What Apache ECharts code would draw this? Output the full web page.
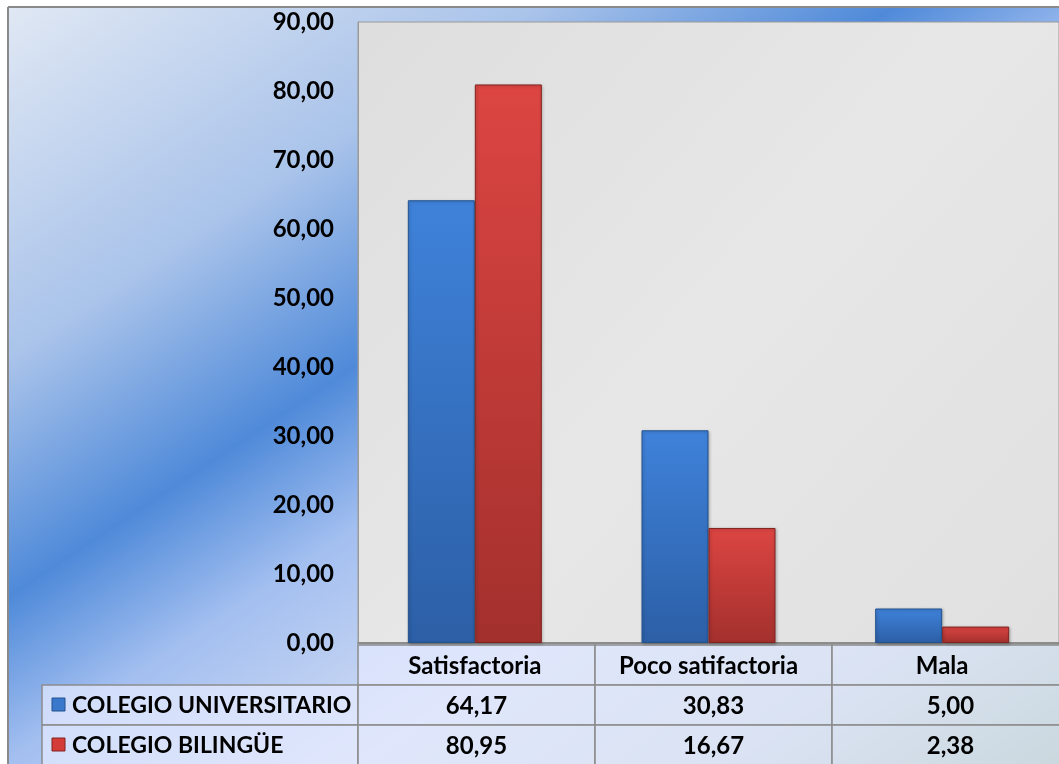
<!DOCTYPE html>
<html><head><meta charset="utf-8">
<script src="https://cdn.jsdelivr.net/npm/echarts@6/dist/echarts.min.js"></script>
<style>html,body{margin:0;padding:0;background:#fff;overflow:hidden}#c{width:1059px;height:764px}</style>
</head><body><div id="c"></div>
<script>
const categories = ['Satisfactoria', 'Poco satifactoria', 'Mala'];
const seriesNames = ['COLEGIO UNIVERSITARIO', 'COLEGIO BILINGÜE'];
const universitario = [64.17, 30.83, 5.00];
const bilingue = [80.95, 16.67, 2.38];
const yMin = 0, yMax = 90, yInterval = 10;

const FONT = 'Lato';
const W = 'bold';
const fmt = v => Number(v).toFixed(2).replace('.', ',');

// layout
const G = {left: 358, top: 22, width: 711, height: 621};
const tableLeft = 42, rowH = 40, headerTop = 645, headerH = 40;
const colW = G.width / categories.length;

const chart = echarts.init(document.getElementById('c'), null, {renderer: 'canvas'});

const blueFill = new echarts.graphic.LinearGradient(0, 0, 0, 1, [
  {offset: 0, color: '#3f82da'}, {offset: 1, color: '#2c5fa6'}]);
const redFill = new echarts.graphic.LinearGradient(0, 0, 0, 1, [
  {offset: 0, color: '#dc4542'}, {offset: 1, color: '#a3302d'}]);
const seriesColors = [blueFill, redFill];
const seriesBorders = ['#23528f', '#82231f'];
const markerColors = ['#3a78cc', '#d43c39'];

const graphics = [];
// background
graphics.push({
  type: 'rect', z: -10, silent: true,
  shape: {x: 9, y: 8, width: 1100, height: 800},
  style: {fill: new echarts.graphic.LinearGradient(0, 0, 678, 1018, [
    {offset: 0, color: '#e2e9f4'},
    {offset: 0.25, color: '#a9c3ea'},
    {offset: 0.41, color: '#4f8ad9'},
    {offset: 0.52, color: '#a3bff0'},
    {offset: 0.68, color: '#d2dcf3'},
    {offset: 0.86, color: '#bccdd0'},
    {offset: 1, color: '#86a98a'}], true)}
});
graphics.push({type: 'line', z: 5, silent: true, shape: {x1: 8, y1: 7, x2: 1100, y2: 7}, style: {stroke: '#8a8a8a', lineWidth: 2}});
graphics.push({type: 'line', z: 5, silent: true, shape: {x1: 8, y1: 7, x2: 8, y2: 800}, style: {stroke: '#8a8a8a', lineWidth: 2}});

const cellFill = 'rgba(228,234,255,0.72)';
const cellStroke = '#8c8c8c';
categories.forEach((c, i) => {
  graphics.push({type: 'rect', z: -5, silent: true,
    shape: {x: G.left + i * colW, y: headerTop, width: colW, height: headerH},
    style: {fill: cellFill, stroke: cellStroke, lineWidth: 1.5}});
});
const rows = [universitario, bilingue];
rows.forEach((vals, r) => {
  const y = headerTop + headerH + r * rowH;
  graphics.push({type: 'rect', z: -5, silent: true,
    shape: {x: tableLeft, y: y, width: G.left - tableLeft, height: rowH},
    style: {fill: cellFill, stroke: cellStroke, lineWidth: 1.5}});
  graphics.push({type: 'rect', z: 6, silent: true,
    shape: {x: 52, y: y + rowH / 2 - 7, width: 13, height: 13},
    style: {fill: markerColors[r], stroke: seriesBorders[r], lineWidth: 1}});
  graphics.push({type: 'text', z: 6, silent: true,
    style: {x: 72, y: y + rowH / 2 + 1, text: seriesNames[r], fill: '#000',
      font: W + ' 23px ' + FONT, textAlign: 'left', textVerticalAlign: 'middle'}});
  vals.forEach((v, i) => {
    graphics.push({type: 'rect', z: -5, silent: true,
      shape: {x: G.left + i * colW, y: y, width: colW, height: rowH},
      style: {fill: cellFill, stroke: cellStroke, lineWidth: 1.5}});
    graphics.push({type: 'text', z: 6, silent: true,
      style: {x: G.left + (i + 0.5) * colW, y: y + rowH / 2 + 1, text: fmt(v), fill: '#000',
        font: W + ' 24px ' + FONT, textAlign: 'center', textVerticalAlign: 'middle'}});
  });
});

chart.setOption({
  animation: false,
  backgroundColor: '#ffffff',
  graphic: graphics,
  grid: {left: G.left, top: G.top, width: G.width, height: G.height, show: true,
    backgroundColor: new echarts.graphic.LinearGradient(0, 0, 1, 1, [
      {offset: 0, color: '#dedede'}, {offset: 0.5, color: '#e7e7e7'}, {offset: 1, color: '#e0e0e0'}]),
    borderColor: '#9a9a9a', borderWidth: 1},
  xAxis: {
    type: 'category', data: categories,
    axisLine: {show: true, lineStyle: {color: '#8c8c8c', width: 2}},
    axisTick: {show: false},
    axisLabel: {color: '#000', fontFamily: FONT, fontWeight: W, fontSize: 24, margin: 11,
      interval: 0, hideOverlap: false}
  },
  yAxis: {
    type: 'value', min: yMin, max: yMax, interval: yInterval,
    axisLine: {show: true, lineStyle: {color: '#9a9a9a', width: 1}},
    axisTick: {show: false},
    splitLine: {show: false},
    axisLabel: {color: '#000', fontFamily: FONT, fontWeight: W, fontSize: 24, margin: 24,
      formatter: v => fmt(v)}
  },
  series: [universitario, bilingue].map((d, i) => ({
    name: seriesNames[i], type: 'bar', data: d,
    barWidth: 67, barGap: '0%',
    itemStyle: {color: seriesColors[i], borderColor: seriesBorders[i], borderWidth: 1,
      shadowColor: 'rgba(0,0,0,0.25)', shadowBlur: 3, shadowOffsetX: 1, shadowOffsetY: 1}
  }))
});
</script></body></html>
